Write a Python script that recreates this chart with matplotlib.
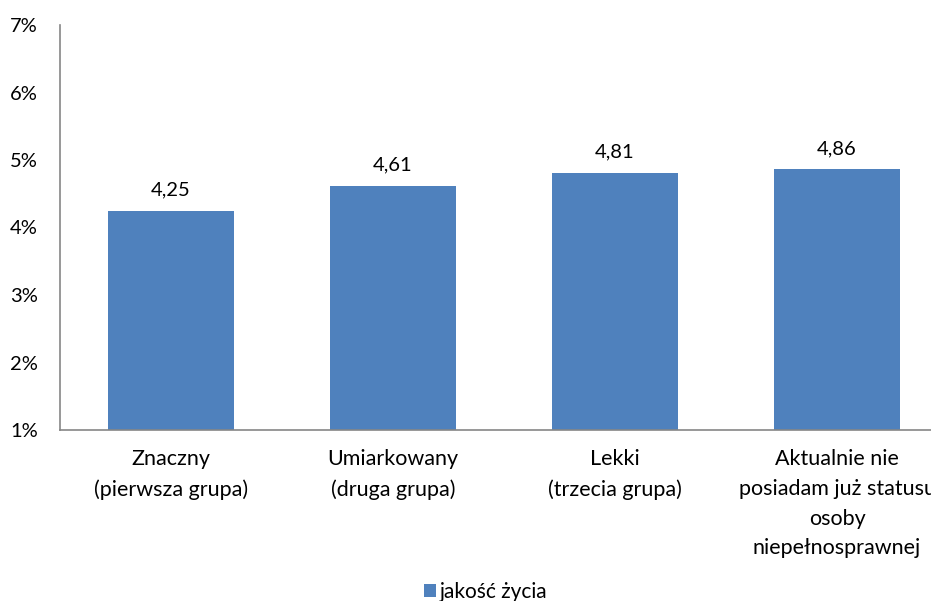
import matplotlib
matplotlib.use("Agg")
import matplotlib.pyplot as plt

plt.rcParams['font.family'] = ['Lato', 'DejaVu Sans']

categories = ["Znaczny\n(pierwsza grupa)", "Umiarkowany\n(druga grupa)", "Lekki\n(trzecia grupa)",
              "Aktualnie nie\nposiadam już statusu\nosoby\nniepełnosprawnej"]
values = [4.25, 4.61, 4.81, 4.86]
series_name = "jakość życia"
y_ticks = [1, 2, 3, 4, 5, 6, 7]

fig = plt.figure(figsize=(9.31, 6.01), dpi=100)
ax = fig.add_axes([60 / 931, 171 / 601, 888 / 931, 405 / 601])

bars = ax.bar(range(len(values)), [v - 1 for v in values], bottom=1, width=0.57,
              color='#4F81BD', label=series_name)
ax.bar_label(bars, labels=[f"{v:.2f}".replace('.', ',') for v in values],
             padding=9, fontsize=14.5, color='black')

ax.set_xlim(-0.5, 3.5)
ax.set_ylim(1, 7)
ax.set_yticks(y_ticks)
ax.set_yticklabels([f"{t}%" for t in y_ticks])
ax.set_xticks(range(len(categories)))
ax.set_xticklabels(categories, linespacing=1.6)
ax.tick_params(axis='y', length=0, pad=16, labelsize=14.5)
ax.tick_params(axis='x', length=0, pad=14, labelsize=15.5)

for side in ['top', 'right']:
    ax.spines[side].set_visible(False)
for side in ['left', 'bottom']:
    ax.spines[side].set_color('#868686')
    ax.spines[side].set_linewidth(1.2)

fig.legend(loc='center', bbox_to_anchor=(486 / 931, 1 - 592 / 601), frameon=False,
           fontsize=15, handlelength=0.55, handleheight=0.55, handletextpad=0.2)

fig.savefig("out.png", dpi=100)
